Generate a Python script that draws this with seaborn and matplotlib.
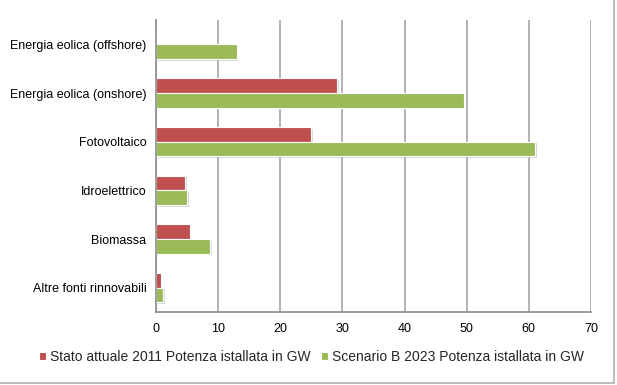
import matplotlib
matplotlib.use("Agg")
import matplotlib.pyplot as plt
import matplotlib.patheffects as pe
from matplotlib.patches import Rectangle
import numpy as np
import pandas as pd
import seaborn as sns

# Data
categories = ["Energia eolica (offshore)", "Energia eolica (onshore)", "Fotovoltaico",
              "Idroelettrico", "Biomassa", "Altre fonti rinnovabili"]
stato_2011 = [0.1, 29.1, 25.0, 4.7, 5.4, 0.75]
scenario_2023 = [13.0, 49.5, 61.0, 5.0, 8.7, 1.2]
series_names = ["Stato attuale 2011 Potenza istallata in GW",
                "Scenario B 2023 Potenza istallata in GW"]
x_ticks = [0, 10, 20, 30, 40, 50, 60, 70]

df = pd.DataFrame({
    "categoria": categories * 2,
    "serie": [series_names[0]] * len(categories) + [series_names[1]] * len(categories),
    "valore": stato_2011 + scenario_2023,
})

sns.set_theme(style="white")
plt.rcParams['font.family'] = ['Liberation Sans', 'DejaVu Sans']

fig = plt.figure(figsize=(6.17, 3.85), dpi=100)
ax = fig.add_axes([156 / 617, 1 - 312 / 385, (591 - 156) / 617, (312 - 20) / 385])

palette = {series_names[0]: "#C0504D", series_names[1]: "#9BBB59"}
sns.barplot(data=df, y="categoria", x="valore", hue="serie", orient="h",
            palette=palette, width=0.6, gap=0.0, saturation=1,
            edgecolor="white", linewidth=0.8, ax=ax)

# subtle shadow like the original
for bar in ax.patches:
    bar.set_path_effects([pe.SimplePatchShadow(offset=(1.2, -1.2), shadow_rgbFace="#bbbbbb", alpha=0.6),
                          pe.Normal()])

ax.set_xlim(0, 70)
ax.set_xticks(x_ticks)
ax.set_ylim(len(categories) - 0.5, -0.5)
ax.grid(axis="x", color="#a6a6a6", linewidth=1.2)
ax.set_axisbelow(True)
ax.set_xlabel("")
ax.set_ylabel("")

for s in ["top", "right"]:
    ax.spines[s].set_visible(False)
for s in ["left", "bottom"]:
    ax.spines[s].set_color("#8c8c8c")
    ax.spines[s].set_linewidth(1.2)

ax.tick_params(axis="x", labelsize=9, colors="black", length=4, color="#8c8c8c", width=1.2, pad=4)
ax.tick_params(axis="y", which="major", labelsize=9, colors="black", length=0, pad=7)
ax.set_yticks(np.arange(-0.5, len(categories), 1.0), minor=True)
ax.tick_params(axis="y", which="minor", length=4, color="#8c8c8c", width=1.2)

handles, labels = ax.get_legend_handles_labels()
ax.legend(handles, labels, loc="center", ncol=2,
          frameon=False, fontsize=10, handlelength=0.45, handleheight=0.45,
          handletextpad=0.3, columnspacing=0.8,
          bbox_to_anchor=(0.505, 28 / 385), bbox_transform=fig.transFigure)

fig.patches.append(Rectangle((-0.01, 2 / 385), 0.01 + 614 / 617, 1.0,
                             transform=fig.transFigure, fill=False,
                             edgecolor="#b0b0b0", linewidth=1.2))

fig.savefig("out.png", dpi=100)
